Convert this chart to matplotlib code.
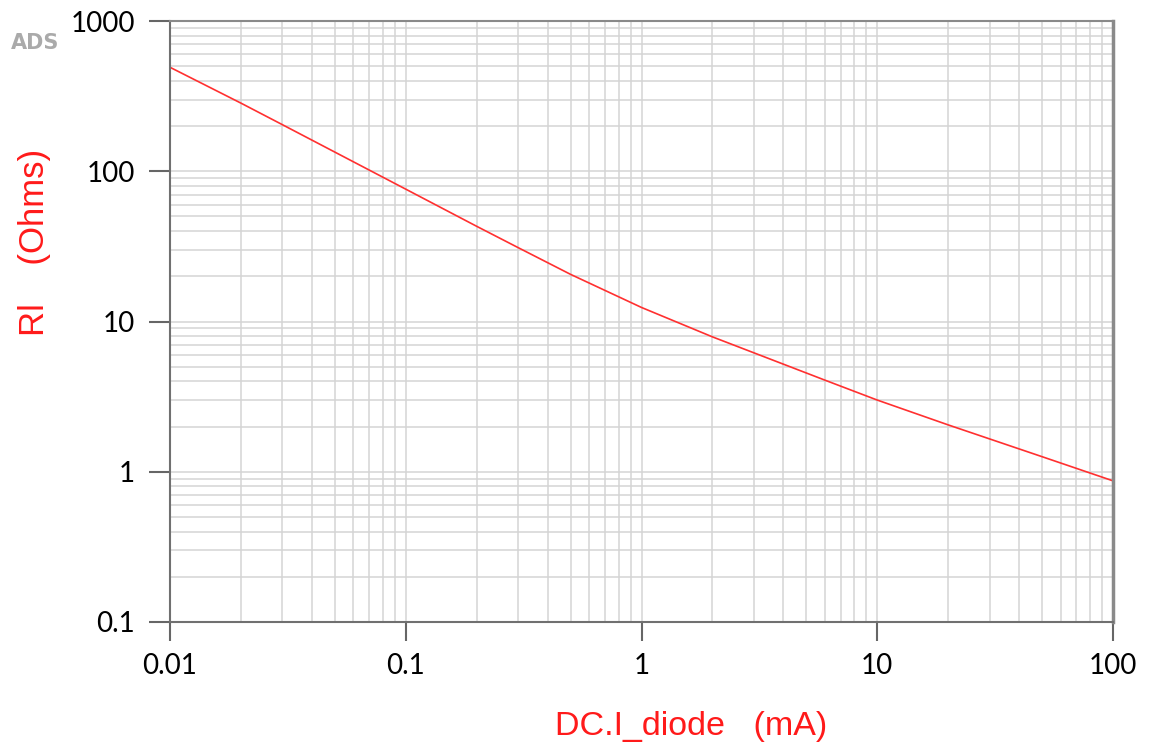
import numpy as np
from matplotlib import pyplot as plt
from matplotlib.ticker import LogLocator, FixedLocator, NullFormatter

# values
i_diode = [0.01, 0.02, 0.03, 0.1, 0.2, 0.3, 0.5, 1, 2, 6, 10, 20, 50, 100]  # mA
r_ohms = [492, 284, 204, 76, 43, 31, 20.6, 12.4, 7.9, 4.07, 3.0, 2.05, 1.26, 0.87]

x_ticks = [0.01, 0.1, 1, 10, 100]
x_labels = ['0.01', '0.1', '1', '10', '100']
y_ticks = [0.1, 1, 10, 100, 1000]
y_labels = ['0.1', '1', '10', '100', '1000']

fig = plt.figure(figsize=(11.57, 7.51), dpi=100)
ax = fig.add_axes([170/1157, 1 - 622/751, (1113-170)/1157, (622-21)/751])

ax.plot(i_diode, r_ohms, color='#ff3030', lw=1.2)
ax.set_xscale('log')
ax.set_yscale('log')
ax.set_xlim(0.01, 100)
ax.set_ylim(0.1, 1000)

ax.xaxis.set_major_locator(FixedLocator(x_ticks))
ax.yaxis.set_major_locator(FixedLocator(y_ticks))
ax.set_xticklabels(x_labels, fontfamily='Lato', fontsize=20)
ax.set_yticklabels(y_labels, fontfamily='Lato', fontsize=20)
ax.xaxis.set_minor_locator(LogLocator(base=10, subs=np.arange(2, 10), numticks=20))
ax.yaxis.set_minor_locator(LogLocator(base=10, subs=np.arange(2, 10), numticks=20))
ax.xaxis.set_minor_formatter(NullFormatter())
ax.yaxis.set_minor_formatter(NullFormatter())

ax.grid(True, which='both', color='#d4d4d4', lw=1.1)
ax.set_axisbelow(True)
ax.tick_params(which='major', direction='out', length=14, width=1.5, color='#666666', pad=8)
ax.tick_params(axis='y', which='major', length=15, pad=10)
ax.tick_params(which='minor', length=0)

ax.spines['left'].set_color('#707070')
ax.spines['bottom'].set_color('#707070')
ax.spines['right'].set_color('#8a8a8a')
ax.spines['top'].set_color('#8a8a8a')
for s in ax.spines.values():
    s.set_linewidth(1.5)
ax.spines['right'].set_linewidth(2.5)

fig.text(691/1157, 1 - 727/751, 'DC.I_diode   (mA)', color='#ff1a1a',
         fontfamily='Liberation Sans', fontsize=24.5, ha='center', va='center')
fig.text(35/1157, 1 - 242/751, 'Rl    (Ohms)', color='#ff1a1a',
         fontfamily='Liberation Sans', fontsize=25, ha='center', va='center', rotation=90)
fig.text(11/1157, 1 - 43/751, 'ADS', color='#aaaaaa', fontsize=15,
         fontweight='bold', ha='left', va='center')

plt.savefig('out.png', dpi=100)
